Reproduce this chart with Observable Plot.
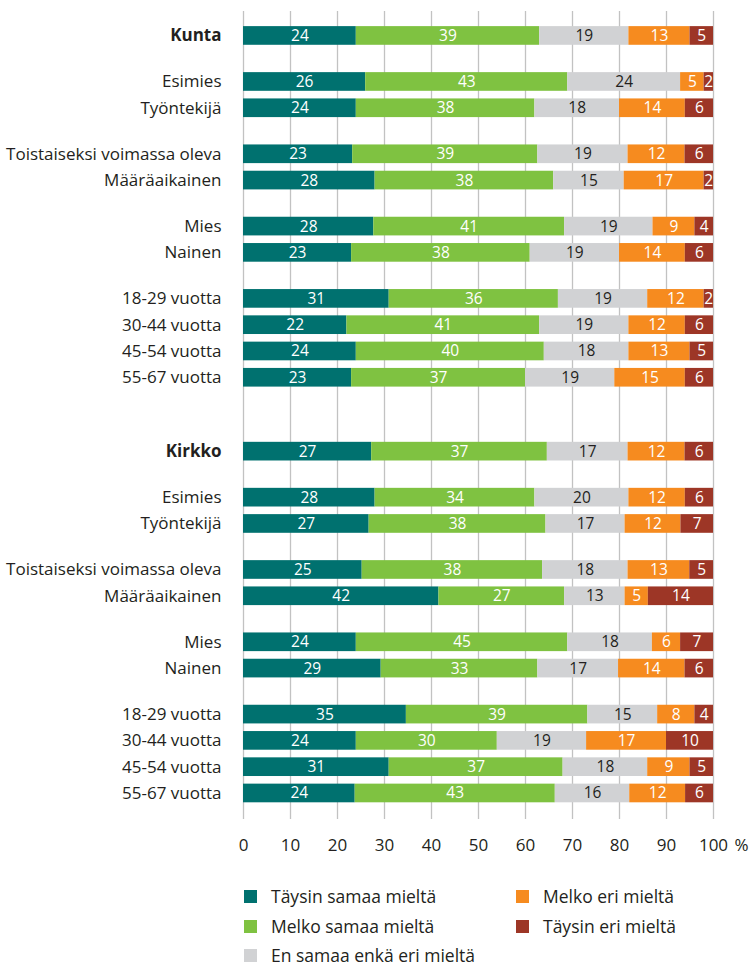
<!DOCTYPE html>
<html>
<head>
<meta charset="utf-8">
<script src="https://cdn.jsdelivr.net/npm/d3@7"></script>
<script src="https://cdn.jsdelivr.net/npm/@observablehq/plot@0.6"></script>
<style>
  body { margin: 0; background: #fff; font-family: "Open Sans", sans-serif; color: #231f20; }
  #chart { position: relative; width: 753px; height: 968px; }
  #chart svg { display: block; }
  .legend-item { position: absolute; height: 18px; line-height: 18px; display: flex; align-items: center; font-size: 17.5px; white-space: nowrap; color: #231f20; }
  .swatch { width: 13px; height: 13px; margin-right: 14px; flex: none; }
</style>
</head>
<body>
<div id="chart"></div>
<script>
// Response categories, in stacking order
const categories = [
  "Täysin samaa mieltä",
  "Melko samaa mieltä",
  "En samaa enkä eri mieltä",
  "Melko eri mieltä",
  "Täysin eri mieltä"
];
const colors = ["#00716f", "#7fc241", "#d1d2d4", "#f68b1f", "#9d3626"];

// Sectors and the row groups within each sector
const sectors = ["Kunta", "Kirkko"];
const groupRows = [
  ["TOTAL"],
  ["Esimies", "Työntekijä"],
  ["Toistaiseksi voimassa oleva", "Määräaikainen"],
  ["Mies", "Nainen"],
  ["18-29 vuotta", "30-44 vuotta", "45-54 vuotta", "55-67 vuotta"]
];

// Shares (%) per row, one array per sector, columns follow `categories`
const kuntaValues = [
  [24, 39, 19, 13, 5],
  [26, 43, 24, 5, 2],
  [24, 38, 18, 14, 6],
  [23, 39, 19, 12, 6],
  [28, 38, 15, 17, 2],
  [28, 41, 19, 9, 4],
  [23, 38, 19, 14, 6],
  [31, 36, 19, 12, 2],
  [22, 41, 19, 12, 6],
  [24, 40, 18, 13, 5],
  [23, 37, 19, 15, 6]
];
const kirkkoValues = [
  [27, 37, 17, 12, 6],
  [28, 34, 20, 12, 6],
  [27, 38, 17, 12, 7],
  [25, 38, 18, 13, 5],
  [42, 27, 13, 5, 14],
  [24, 45, 18, 6, 7],
  [29, 33, 17, 14, 6],
  [35, 39, 15, 8, 4],
  [24, 30, 19, 17, 10],
  [31, 37, 18, 9, 5],
  [24, 43, 16, 12, 6]
];

const xTicks = d3.range(0, 101, 10);

// Row layout: one unit per row, wider gaps between groups and sectors
const GROUP_GAP = 0.75;
const SECTOR_GAP = 1.81;
const rowsMeta = [];
let pos = 0;
sectors.forEach((sector, si) => {
  if (si > 0) pos += SECTOR_GAP;
  groupRows.forEach((rows, gi) => {
    if (gi > 0) pos += GROUP_GAP;
    rows.forEach(r => {
      const isTotal = r === "TOTAL";
      rowsMeta.push({sector, label: isTotal ? sector : r, bold: isTotal, pos});
      pos += 1;
    });
  });
});

const valueTable = [...kuntaValues, ...kirkkoValues];
const data = [];
rowsMeta.forEach((row, i) => {
  valueTable[i].forEach((v, ci) => {
    data.push({pos: row.pos, category: categories[ci], value: v});
  });
});

const HALF = 0.355;
const W = 753, H = 875;

const chart = Plot.plot({
  width: W,
  height: H,
  marginLeft: 243,
  marginRight: 40,
  marginTop: 11,
  marginBottom: H - 819,
  style: {fontFamily: "Open Sans, sans-serif", fontSize: "17px", color: "#231f20", background: "#fff"},
  x: {domain: [0, 1], axis: null},
  y: {domain: [-0.93, 29.8], reverse: true, axis: null},
  color: {domain: categories, range: colors},
  marks: [
    Plot.ruleX(xTicks, {x: d => d / 100, stroke: "#c2c2c2", strokeWidth: 1.3}),
    Plot.rectX(data, Plot.stackX({
      x: "value",
      y1: d => d.pos - HALF,
      y2: d => d.pos + HALF,
      z: "category",
      fill: "category",
      offset: "normalize"
    })),
    // value labels: white on coloured segments
    Plot.text(data, Plot.stackX({
      x: "value",
      y: "pos",
      z: "category",
      offset: "normalize",
      text: d => d.category === categories[2] ? null : String(d.value),
      fill: "#ffffff",
      fontSize: 15.5
    })),
    // value labels: dark on the neutral segment
    Plot.text(data, Plot.stackX({
      x: "value",
      y: "pos",
      z: "category",
      offset: "normalize",
      text: d => d.category === categories[2] ? String(d.value) : null,
      fill: "#231f20",
      fontSize: 15.5
    })),
    // row labels
    Plot.text(rowsMeta.filter(d => !d.bold), {
      y: "pos", text: "label", frameAnchor: "left", textAnchor: "end", dx: -22, fill: "#231f20", fontSize: 17
    }),
    Plot.text(rowsMeta.filter(d => d.bold), {
      y: "pos", text: "label", frameAnchor: "left", textAnchor: "end", dx: -22, fill: "#231f20", fontSize: 17, fontWeight: "bold"
    }),
    // x tick labels
    Plot.text(xTicks, {
      x: d => d / 100, frameAnchor: "bottom", dy: 31, text: d => String(d), fill: "#231f20", fontSize: 17
    }),
    Plot.text([100], {
      x: d => d / 100, frameAnchor: "bottom", dy: 31, dx: 28, text: () => "%", fill: "#231f20", fontSize: 17
    })
  ]
});

const container = document.getElementById("chart");
container.appendChild(chart);

// Legend below the chart, two columns
const legendPlaces = [
  {left: 244, center: 896},
  {left: 244, center: 926},
  {left: 244, center: 955},
  {left: 516, center: 896},
  {left: 516, center: 926}
];
categories.forEach((cat, ci) => {
  const p = legendPlaces[ci];
  const item = document.createElement("div");
  item.className = "legend-item";
  item.style.left = p.left + "px";
  item.style.top = (p.center - 9) + "px";
  const sw = document.createElement("span");
  sw.className = "swatch";
  sw.style.background = colors[ci];
  const label = document.createElement("span");
  label.textContent = cat;
  item.appendChild(sw);
  item.appendChild(label);
  container.appendChild(item);
});
</script>
</body>
</html>
